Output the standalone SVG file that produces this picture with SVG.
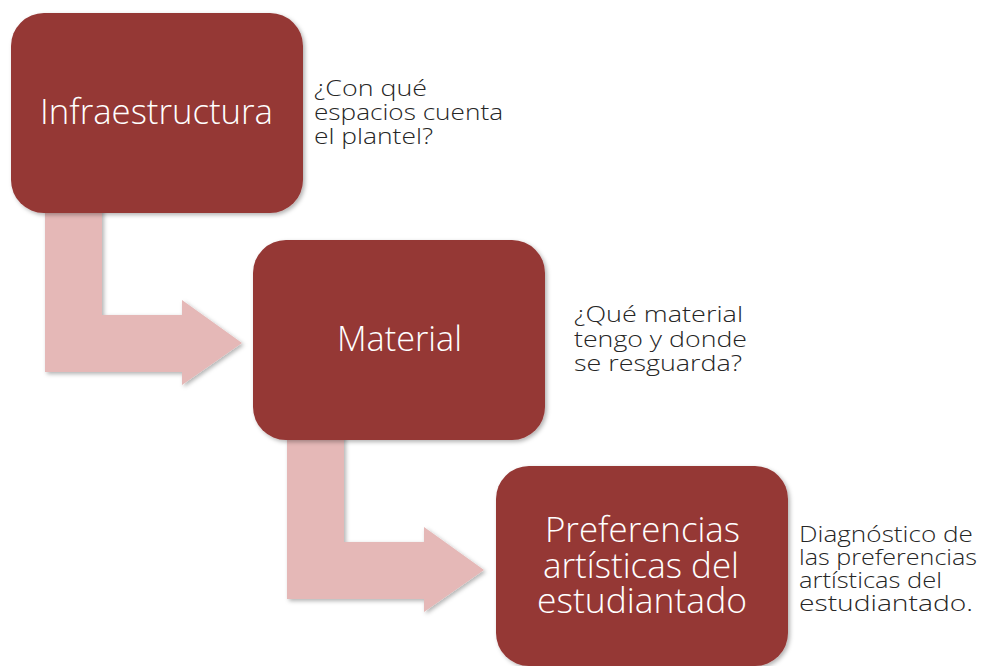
<svg xmlns="http://www.w3.org/2000/svg" width="987" height="666" viewBox="0 0 987 666">
<defs>
<filter id="sh" x="-10%" y="-10%" width="130%" height="130%">
<feDropShadow dx="2" dy="2" stdDeviation="2" flood-color="#000" flood-opacity="0.3"/>
</filter>
<style>
.box{fill:#953735;filter:url(#sh)}
.arr{fill:#E5B8B7;filter:url(#sh)}
.bt{font-family:"Open Sans","Noto Sans",sans-serif;font-weight:300;fill:#ffffff;font-size:34px}
.st{font-family:"Open Sans","Noto Sans",sans-serif;font-weight:300;fill:#262626;font-size:22.5px}
</style>
</defs>
<rect width="987" height="666" fill="#ffffff"/>
<g id="connectors">
<polygon class="arr" points="45,200 45,372 182,372 182,385 242,343 182,300 182,315 102,315 102,200"/>
<polygon class="arr" points="287,427 287,599 424,599 424,612 484,570 424,527 424,542 344,542 344,427"/>
</g>
<g id="node-infraestructura">
<rect class="box" x="11" y="13" width="292" height="200" rx="33"/>
<text class="bt" x="40" y="124" textLength="233" lengthAdjust="spacingAndGlyphs">Infraestructura</text>
</g>
<g id="node-material">
<rect class="box" x="253" y="240" width="292" height="200" rx="33"/>
<text class="bt" x="337" y="351" textLength="125" lengthAdjust="spacingAndGlyphs">Material</text>
</g>
<g id="node-preferencias">
<rect class="box" x="496" y="466" width="292" height="200" rx="33"/>
<text class="bt" x="545" y="542" textLength="195" lengthAdjust="spacingAndGlyphs">Preferencias</text>
<text class="bt" x="543" y="578" textLength="196" lengthAdjust="spacingAndGlyphs">artísticas del</text>
<text class="bt" x="537" y="613" textLength="210" lengthAdjust="spacingAndGlyphs">estudiantado</text>
</g>
<g id="label-infraestructura">
<text class="st" x="314" y="96" textLength="113" lengthAdjust="spacingAndGlyphs">¿Con qué</text>
<text class="st" x="314" y="120" textLength="189" lengthAdjust="spacingAndGlyphs">espacios cuenta</text>
<text class="st" x="314" y="144" textLength="119" lengthAdjust="spacingAndGlyphs">el plantel?</text>
</g>
<g id="label-material">
<text class="st" x="574" y="322" textLength="169" lengthAdjust="spacingAndGlyphs">¿Qué material</text>
<text class="st" x="574" y="347" textLength="173" lengthAdjust="spacingAndGlyphs">tengo y donde</text>
<text class="st" x="574" y="371" textLength="168" lengthAdjust="spacingAndGlyphs">se resguarda?</text>
</g>
<g id="label-preferencias">
<text class="st" x="799" y="542" textLength="174" lengthAdjust="spacingAndGlyphs">Diagnóstico de</text>
<text class="st" x="799" y="565" textLength="178" lengthAdjust="spacingAndGlyphs">las preferencias</text>
<text class="st" x="799" y="588" textLength="143" lengthAdjust="spacingAndGlyphs">artísticas del</text>
<text class="st" x="799" y="611" textLength="174" lengthAdjust="spacingAndGlyphs">estudiantado.</text>
</g>
</svg>
